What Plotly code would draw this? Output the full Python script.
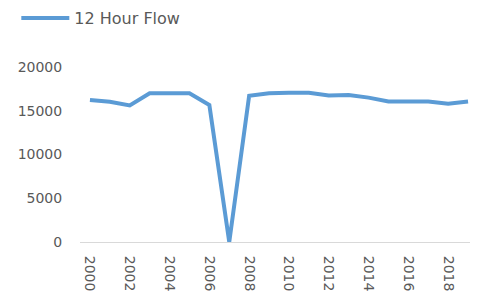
import plotly.graph_objects as go

years = list(range(2000, 2020))
flow = [16230, 16030, 15600, 17000, 17000, 17000, 15660, 0, 16720, 17000,
        17050, 17050, 16750, 16800, 16500, 16050, 16050, 16050, 15800, 16050]
series_name = "12 Hour Flow"
x_ticks = list(range(2000, 2020, 2))
y_ticks = [0, 5000, 10000, 15000, 20000]

fig = go.Figure()
fig.add_trace(go.Scatter(x=years, y=flow, mode="lines", name=series_name,
                         line=dict(color="#5B9BD5", width=4)))

font = dict(family="DejaVu Sans", size=14, color="#595959")
fig.update_layout(
    width=470, height=291,
    margin=dict(l=72, r=0, t=59, b=57, autoexpand=False),
    paper_bgcolor="white", plot_bgcolor="white",
    font=font,
    showlegend=True,
    legend=dict(orientation="h", x=-0.16, xanchor="left", y=1.28, yanchor="middle",
                itemwidth=48,
                font=dict(family="DejaVu Sans", size=16, color="#595959"),
                bgcolor="rgba(0,0,0,0)"),
    xaxis=dict(range=[1999.5, 2019.5], tickvals=x_ticks, ticktext=[str(v) for v in x_ticks],
               tickangle=90, showgrid=False, zeroline=False,
               showline=True, linecolor="#D9D9D9", linewidth=1,
               ticks="outside", ticklen=10, tickcolor="rgba(0,0,0,0)",
               tickfont=font),
    yaxis=dict(range=[0, 20000], tickvals=y_ticks, ticktext=[str(v) for v in y_ticks],
               showgrid=False, zeroline=False,
               showline=False, ticks="outside", ticklen=14, tickcolor="rgba(0,0,0,0)",
               tickfont=font),
)
fig.write_html("out.html")
